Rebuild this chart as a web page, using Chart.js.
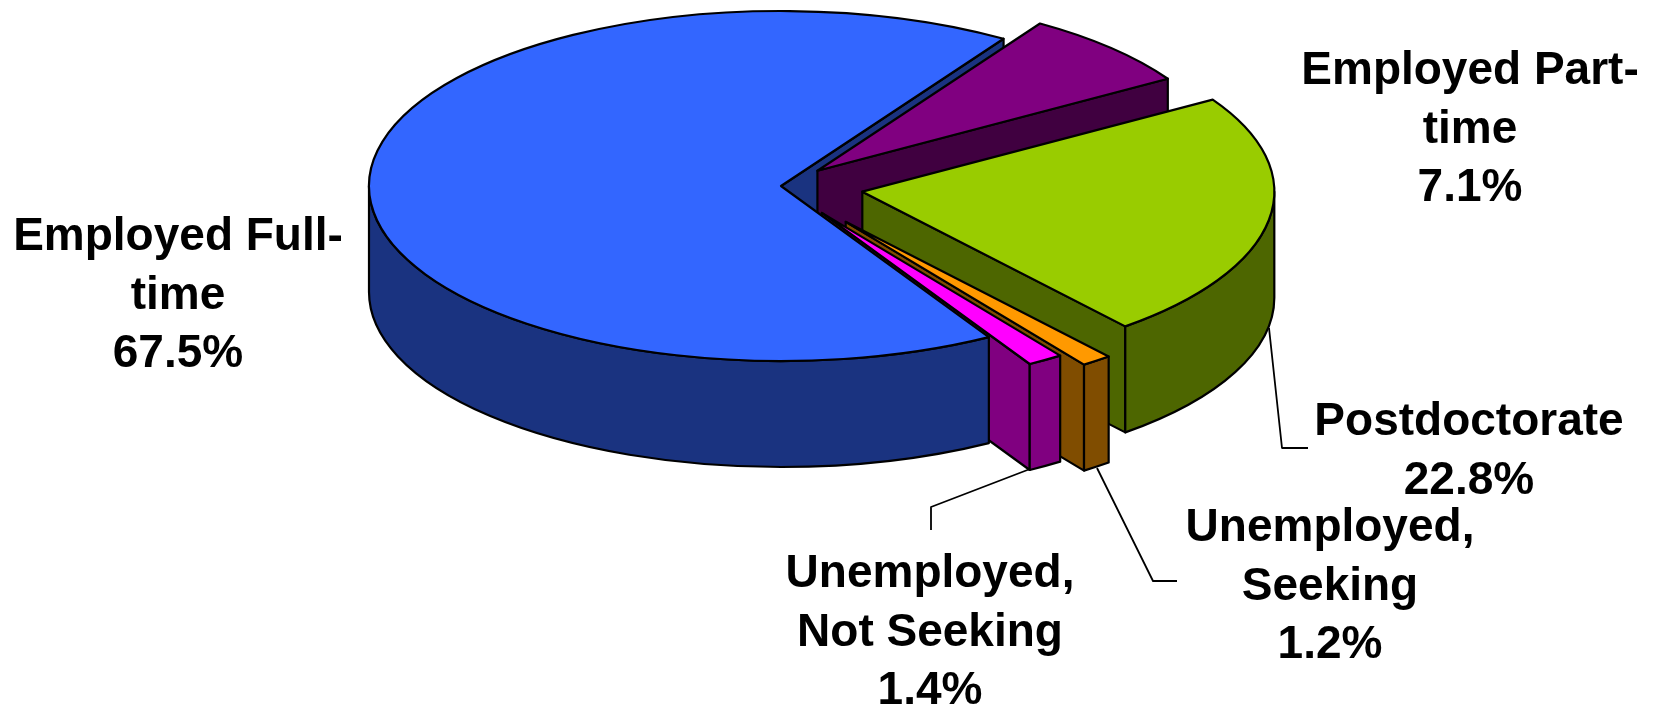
<!DOCTYPE html>
<html>
<head>
<meta charset="utf-8">
<title>Employment status</title>
<script src="https://cdn.jsdelivr.net/npm/chart.js@4/dist/chart.umd.js"></script>
<style>
  html, body { margin: 0; background: #fff; }
  canvas { display: block; }
</style>
</head>
<body>
<canvas id="statusChart" width="1658" height="707"></canvas>
<script>
// Sample data for the chart
const categories = ['Employed Full-time', 'Employed Part-time', 'Postdoctorate', 'Unemployed, Seeking', 'Unemployed, Not Seeking'];
const shares = [67.5, 7.1, 22.8, 1.2, 1.4];
const labelLines = [
    ['Employed Full-', 'time'],
    ['Employed Part-', 'time'],
    ['Postdoctorate'],
    ['Unemployed,', 'Seeking'],
    ['Unemployed,', 'Not Seeking']
];

// Colours and the pulled out pieces
const topColors = ['#3366FF', '#800080', '#99CC00', '#FF9900', '#FF00FF'];
const wallColors = ['#1A3380', '#400040', '#4D6600', '#804D00', '#800080'];
const explode = [0, 0.124, 0.2, 0.258, 0.183];

// Where the tilted pie sits on the page
const pieX = 781, pieY = 186, radiusX = 412, radiusY = 175, depth = 106;
const firstSliceAngle = 149.7;

// Label anchors: centre x and first baseline
const labelPos = [[178, 250], [1470, 84], [1469, 435], [1330, 541], [930, 587]];
const lineGap = 58.5;

// Leader lines
const leaders = [
    [[1269, 328], [1282, 448], [1308, 448]],
    [[1097, 468], [1153, 581], [1177, 581]],
    [[1030, 469], [931, 507], [931, 530]]
];

const outline = 2.2;

function sliceInfo(el) {
    const k = radiusX / el.outerRadius;
    const apexX = pieX + (el.x - el.$cx) * k;
    const apexY = pieY + (el.y - el.$cy) * radiusY / el.outerRadius;
    return { x: apexX, y: apexY, start: el.startAngle, end: el.endAngle };
}

function rimPoint(s, angle) {
    return [s.x + radiusX * Math.cos(angle), s.y + radiusY * Math.sin(angle)];
}

function paint(ctx, fill) {
    ctx.fillStyle = fill;
    ctx.fill();
    ctx.lineWidth = outline;
    ctx.strokeStyle = '#000';
    ctx.lineJoin = 'round';
    ctx.stroke();
}

// The two flat cut faces of a slice, only where they face the viewer
function drawCuts(ctx, s, fill) {
    [[s.start, -Math.PI / 2], [s.end, Math.PI / 2]].forEach(function (edge) {
        if (Math.sin(edge[0] + edge[1]) <= 0) return;
        const p = rimPoint(s, edge[0]);
        ctx.beginPath();
        ctx.moveTo(s.x, s.y);
        ctx.lineTo(p[0], p[1]);
        ctx.lineTo(p[0], p[1] + depth);
        ctx.lineTo(s.x, s.y + depth);
        ctx.closePath();
        paint(ctx, fill);
    });
}

// The curved outer wall, only on the front half of the rim
function drawRim(ctx, s, fill) {
    [0, 2 * Math.PI].forEach(function (base) {
        const a = Math.max(s.start, base);
        const b = Math.min(s.end, base + Math.PI);
        if (b <= a) return;
        ctx.beginPath();
        ctx.ellipse(s.x, s.y, radiusX, radiusY, 0, a, b);
        ctx.ellipse(s.x, s.y + depth, radiusX, radiusY, 0, b, a, true);
        ctx.closePath();
        paint(ctx, fill);
    });
}

const pie3d = {
    id: 'pie3d',
    beforeDatasetsDraw(chart) {
        const ctx = chart.ctx;
        const area = chart.chartArea;
        const cx = (area.left + area.right) / 2;
        const cy = (area.top + area.bottom) / 2;
        const arcs = chart.getDatasetMeta(0).data;

        // pull the pieces out from the centre
        arcs.forEach(function (el, i) {
            const mid = (el.startAngle + el.endAngle) / 2;
            el.$cx = cx;
            el.$cy = cy;
            el.x = cx + explode[i] * el.outerRadius * Math.cos(mid);
            el.y = cy + explode[i] * el.outerRadius * Math.sin(mid);
        });

        // walls back to front, big slice's rim goes last so it hides the magenta side
        const info = arcs.map(sliceInfo);
        drawCuts(ctx, info[0], wallColors[0]);
        for (let i = 1; i < info.length; i++) {
            drawCuts(ctx, info[i], wallColors[i]);
            drawRim(ctx, info[i], wallColors[i]);
        }
        drawRim(ctx, info[0], wallColors[0]);

        // the library then draws the top faces squashed into an ellipse
        const R = arcs[0].outerRadius;
        ctx.save();
        ctx.translate(pieX, pieY);
        ctx.scale(radiusX / R, radiusY / R);
        ctx.translate(-cx, -cy);
    },
    afterDatasetsDraw(chart) {
        const ctx = chart.ctx;
        ctx.restore();
        chart.getDatasetMeta(0).data.map(sliceInfo).forEach(function (s) {
            ctx.beginPath();
            ctx.moveTo(s.x, s.y);
            ctx.ellipse(s.x, s.y, radiusX, radiusY, 0, s.start, s.end);
            ctx.closePath();
            ctx.lineWidth = outline;
            ctx.strokeStyle = '#000';
            ctx.lineJoin = 'round';
            ctx.stroke();
        });
    },
    afterDraw(chart) {
        const ctx = chart.ctx;
        ctx.save();
        ctx.strokeStyle = '#000';
        ctx.lineWidth = 1.8;
        leaders.forEach(function (line) {
            ctx.beginPath();
            line.forEach(function (p, i) {
                if (i === 0) ctx.moveTo(p[0], p[1]);
                else ctx.lineTo(p[0], p[1]);
            });
            ctx.stroke();
        });
        ctx.fillStyle = '#000';
        ctx.font = 'bold 46px "Liberation Sans", Arial, sans-serif';
        ctx.textAlign = 'center';
        ctx.textBaseline = 'alphabetic';
        labelLines.forEach(function (lines, i) {
            const all = lines.concat(shares[i].toFixed(1) + '%');
            all.forEach(function (text, n) {
                ctx.fillText(text, labelPos[i][0], labelPos[i][1] + n * lineGap);
            });
        });
        ctx.restore();
    }
};

// Initialize the chart
window.onload = function () {
    const ctx = document.getElementById('statusChart').getContext('2d');
    new Chart(ctx, {
        type: 'pie',
        data: {
            labels: categories,
            datasets: [{
                data: shares,
                backgroundColor: topColors,
                borderWidth: 0,
                clip: false
            }]
        },
        options: {
            responsive: false,
            animation: false,
            events: [],
            rotation: firstSliceAngle,
            layout: { padding: 0 },
            plugins: {
                legend: { display: false },
                tooltip: { enabled: false }
            }
        },
        plugins: [pie3d]
    });
};
</script>
</body>
</html>
